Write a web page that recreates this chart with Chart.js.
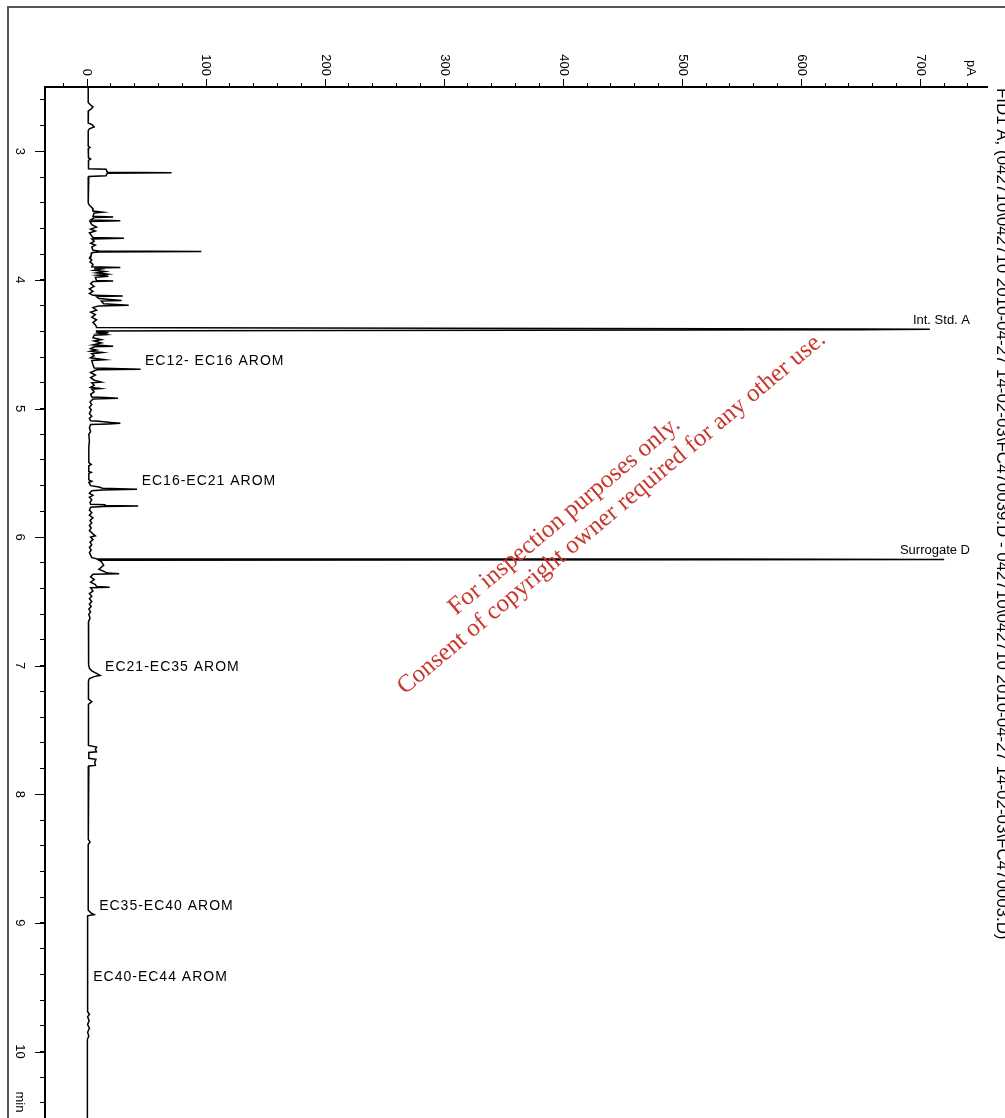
<!DOCTYPE html>
<html>
<head>
<meta charset="utf-8">
<script src="https://cdn.jsdelivr.net/npm/chart.js@4.4.1/dist/chart.umd.min.js"></script>
<style>
html,body{margin:0;padding:0;background:#fff;}
canvas{display:block;}
</style>
</head>
<body>
<canvas id="c" width="1005" height="1118"></canvas>
<script>
// ---- Data ----
const retentionTimes = [
  2.50, 2.62, 2.64, 2.655, 2.67, 2.685, 2.78, 2.795, 2.81, 2.825,
  2.84, 2.96, 2.97, 2.98, 3.05, 3.06, 3.07, 3.12, 3.135, 3.14,
  3.162, 3.166, 3.17, 3.19, 3.195, 3.22, 3.40, 3.42, 3.44, 3.465,
  3.474, 3.48, 3.505, 3.511, 3.515, 3.535, 3.541, 3.546, 3.57, 3.59,
  3.605, 3.62, 3.635, 3.67, 3.676, 3.681, 3.70, 3.715, 3.73, 3.745,
  3.77, 3.775, 3.779, 3.783, 3.788, 3.81, 3.83, 3.845, 3.86, 3.88,
  3.898, 3.903, 3.907, 3.915, 3.925, 3.935, 3.945, 3.955, 3.963, 3.972,
  3.98, 4.004, 4.009, 4.013, 4.03, 4.05, 4.07, 4.09, 4.105, 4.12,
  4.126, 4.13, 4.145, 4.16, 4.165, 4.185, 4.197, 4.202, 4.215, 4.235,
  4.25, 4.27, 4.29, 4.31, 4.33, 4.35, 4.365, 4.37, 4.372, 4.381,
  4.384, 4.387, 4.396, 4.398, 4.405, 4.41, 4.415, 4.425, 4.43, 4.45,
  4.465, 4.475, 4.49, 4.505, 4.515, 4.52, 4.535, 4.545, 4.555, 4.565,
  4.575, 4.59, 4.605, 4.62, 4.627, 4.66, 4.685, 4.69, 4.695, 4.699,
  4.72, 4.74, 4.76, 4.78, 4.795, 4.80, 4.82, 4.835, 4.845, 4.85,
  4.87, 4.89, 4.91, 4.915, 4.921, 4.926, 4.95, 4.97, 4.99, 5.01,
  5.04, 5.06, 5.075, 5.095, 5.10, 5.108, 5.115, 5.12, 5.125, 5.15,
  5.18, 5.20, 5.25, 5.30, 5.35, 5.42, 5.434, 5.445, 5.49, 5.496,
  5.505, 5.555, 5.566, 5.575, 5.60, 5.61, 5.62, 5.628, 5.634, 5.64,
  5.66, 5.675, 5.69, 5.71, 5.73, 5.745, 5.748, 5.755, 5.758, 5.762,
  5.768, 5.79, 5.81, 5.83, 5.85, 5.87, 5.89, 5.91, 5.93, 5.95,
  5.975, 5.99, 6.00, 6.02, 6.04, 6.06, 6.08, 6.10, 6.12, 6.14,
  6.16, 6.168, 6.171, 6.1735, 6.176, 6.179, 6.19, 6.22, 6.25, 6.27,
  6.28, 6.284, 6.288, 6.31, 6.33, 6.35, 6.37, 6.385, 6.39, 6.394,
  6.42, 6.44, 6.46, 6.48, 6.50, 6.52, 6.54, 6.56, 6.58, 6.60,
  6.63, 6.66, 6.70, 6.75, 6.80, 6.90, 6.99, 7.02, 7.04, 7.06,
  7.075, 7.085, 7.10, 7.12, 7.26, 7.28, 7.30, 7.62, 7.632, 7.65,
  7.67, 7.675, 7.72, 7.728, 7.75, 7.775, 7.78, 7.85, 8.00, 8.35,
  8.37, 8.39, 8.90, 8.92, 8.935, 8.945, 8.96, 9.69, 9.71, 9.73,
  9.76, 9.79, 9.82, 9.85, 9.88, 9.905, 10.52
];
const signalPA = [
  1.0, 1.0, 3.0, 5.0, 3.5, 1.2, 1.0, 4.5, 6.0, 2.0,
  1.0, 1.0, 2.5, 1.0, 1.2, 3.0, 1.2, 1.0, 1.5, 16,
  17, 71, 17, 16, 1.5, 1.0, 1.0, 2.0, 4.5, 5,
  13, 6, 5, 22, 6, 3, 28, 2.5, 4, 8,
  3, 7, 2, 5, 31, 4, 6, 3, 7, 4,
  5, 10, 96, 10, 4, 3.5, 2, 4, 2.5, 5,
  4, 28, 6, 12, 6, 15, 8, 17, 9, 18,
  7, 8, 22, 5, 3, 6, 2, 5, 2, 5,
  30, 8, 10, 29, 12, 14, 35, 10, 5, 8,
  3, 7, 4, 8, 5, 7, 8, 8, 72, 650,
  708, 650, 72, 8, 8, 18, 10, 16, 6, 5,
  12, 6, 12, 5, 22, 6, 3, 8, 3, 13,
  4, 6, 3, 15, 4, 5, 6, 30, 45, 8,
  3, 7, 3, 6, 12, 4, 6, 3, 11, 4,
  6, 3, 4, 15, 26, 5, 2.5, 4, 2, 3.5,
  2, 4, 2, 3, 10, 20, 28, 18, 3, 2,
  3, 1.5, 2, 1.5, 1.5, 1.5, 3.5, 1.5, 1.5, 3.5,
  1.5, 1.5, 4, 1.5, 3, 10, 13, 42, 13, 4,
  2, 5, 2, 4, 2.5, 3, 15, 15, 43, 14,
  3, 2, 4, 2, 5, 2.5, 4, 2, 3.5, 2,
  5, 7, 3, 5, 2.5, 4, 2, 3.5, 2, 3,
  4, 8, 523, 720, 523, 10, 12, 14, 10, 15,
  17, 27, 5, 3, 6, 3, 7, 8, 19, 3,
  5, 2, 4, 2, 4, 2, 3.5, 1.5, 3, 1.5,
  2.5, 1.2, 1.2, 1.5, 1.2, 1.2, 1.5, 2, 4, 8,
  11, 6, 2, 1.2, 1.2, 4, 1.2, 1.2, 8, 7,
  8, 1.5, 1.5, 7.5, 6.5, 7, 1.5, 1.2, 1.0, 1.0,
  2.5, 1.0, 1.0, 3, 6, 0.5, 0.5, 0.5, 2, 0.5,
  1.8, 0.5, 2, 0.5, 1.5, 0.3, 0.3
];
const timeTickLabels = [3, 4, 5, 6, 7, 8, 9, 10];
const signalTickLabels = [0, 100, 200, 300, 400, 500, 600, 700];
const timeUnit = 'min';
const signalUnit = 'pA';
const peakNames = ['Int. Std. A', 'EC12- EC16 AROM', 'EC16-EC21 AROM', 'Surrogate D', 'EC21-EC35 AROM', 'EC35-EC40 AROM', 'EC40-EC44 AROM'];
const peakTimes = [4.384, 4.695, 5.628, 6.1735, 7.075, 8.935, 9.485];
const peakHeights = [708, 44.5, 41.7, 720, 11, 6, 1];
const signalTitle = 'FID1 A, (042710\\042710 2010-04-27 14-02-03\\FC470039.D - 042710\\042710 2010-04-27 14-02-03\\FC470003.D)';
const watermarkLines = ['For inspection purposes only.', 'Consent of copyright owner required for any other use.'];

if (retentionTimes.length !== signalPA.length) console.error('length mismatch', retentionTimes.length, signalPA.length);
const points = retentionTimes.map((t, i) => ({ x: signalPA[i], y: t }));

const FONT = '"Liberation Sans", Arial, sans-serif';

const decorPlugin = {
  id: 'decor',
  beforeDraw(chart) {
    const ctx = chart.ctx;
    ctx.save();
    ctx.fillStyle = '#ffffff';
    ctx.fillRect(0, 0, chart.width, chart.height);
    ctx.strokeStyle = '#555555';
    ctx.lineWidth = 2;
    ctx.beginPath();
    ctx.moveTo(8, chart.height + 5);
    ctx.lineTo(8, 7);
    ctx.lineTo(chart.width + 5, 7);
    ctx.stroke();
    ctx.restore();
  },
  afterDraw(chart) {
    const ctx = chart.ctx;
    const xs = chart.scales.x, ys = chart.scales.y;
    const area = chart.chartArea;
    ctx.save();
    ctx.strokeStyle = '#000';
    ctx.lineWidth = 1;
    ctx.beginPath();
    signalTickLabels.forEach(v => {
      const px = Math.round(xs.getPixelForValue(v)) + 0.5;
      ctx.moveTo(px, area.top - 8);
      ctx.lineTo(px, area.top);
    });
    timeTickLabels.forEach(t => {
      const py = Math.round(ys.getPixelForValue(t)) + 0.5;
      ctx.moveTo(area.left - 10, py);
      ctx.lineTo(area.left, py);
    });
    ctx.stroke();

    ctx.fillStyle = '#000';
    ctx.font = '13px ' + FONT;
    signalTickLabels.forEach(v => {
      const px = xs.getPixelForValue(v);
      ctx.save();
      ctx.translate(px, area.top - 11);
      ctx.rotate(Math.PI / 2);
      ctx.textAlign = 'right';
      ctx.textBaseline = 'middle';
      ctx.fillText(String(v), 0, 0);
      ctx.restore();
    });
    ctx.save();
    ctx.translate(area.right - 16, area.top - 11);
    ctx.rotate(Math.PI / 2);
    ctx.textAlign = 'right';
    ctx.textBaseline = 'middle';
    ctx.fillText(signalUnit, 0, 0);
    ctx.restore();

    timeTickLabels.forEach(t => {
      const py = ys.getPixelForValue(t);
      ctx.save();
      ctx.translate(area.left - 25, py);
      ctx.rotate(Math.PI / 2);
      ctx.textAlign = 'center';
      ctx.textBaseline = 'middle';
      ctx.fillText(String(t), 0, 0);
      ctx.restore();
    });
    ctx.save();
    ctx.translate(area.left - 25, ys.getPixelForValue(timeTickLabels[timeTickLabels.length - 1]) + 40);
    ctx.rotate(Math.PI / 2);
    ctx.textAlign = 'left';
    ctx.textBaseline = 'middle';
    ctx.fillText(timeUnit, 0, 0);
    ctx.restore();

    // signal title on right edge (rotated, partly clipped)
    ctx.save();
    let fs = 14;
    ctx.font = fs + 'px ' + FONT;
    const w0 = ctx.measureText(signalTitle).width;
    fs = fs * 852 / w0;
    ctx.font = fs.toFixed(2) + 'px ' + FONT;
    ctx.translate(area.right + 10, area.top + 1);
    ctx.rotate(Math.PI / 2);
    ctx.textAlign = 'left';
    ctx.textBaseline = 'alphabetic';
    ctx.fillText(signalTitle, 0, 0);
    ctx.restore();

    // peak labels
    ctx.textBaseline = 'middle';
    peakNames.forEach((name, i) => {
      const isEC = name.startsWith('EC');
      ctx.font = (isEC ? '14px ' : '13px ') + FONT;
      ctx.letterSpacing = isEC ? '1px' : '0px';
      const py = ys.getPixelForValue(peakTimes[i]) - 8.5;
      let px = xs.getPixelForValue(peakHeights[i]) + 5;
      const w = ctx.measureText(name).width;
      if (px + w > area.right - 17) {
        ctx.textAlign = 'right';
        px = area.right - 17;
      } else {
        ctx.textAlign = 'left';
      }
      ctx.fillText(name, px, py);
    });
    ctx.letterSpacing = '0px';

    // watermark
    ctx.fillStyle = '#c8372d';
    ctx.font = '25px "Liberation Serif", "Times New Roman", serif';
    ctx.textAlign = 'left';
    ctx.textBaseline = 'alphabetic';
    const ang = -40 * Math.PI / 180;
    const dir = [Math.cos(ang), Math.sin(ang)];
    const up = [Math.sin(ang), -Math.cos(ang)];
    const s2 = [405, 695];
    const s1 = [s2[0] + 90 * dir[0] + 28 * up[0], s2[1] + 90 * dir[1] + 28 * up[1]];
    [s1, s2].forEach((s, i) => {
      ctx.save();
      ctx.translate(s[0], s[1]);
      ctx.rotate(ang);
      ctx.fillText(watermarkLines[i], 0, 0);
      ctx.restore();
    });
    ctx.restore();
  }
};

new Chart(document.getElementById('c'), {
  type: 'scatter',
  data: {
    datasets: [{
      data: points,
      showLine: true,
      borderColor: '#000',
      borderWidth: 1.5,
      pointRadius: 0,
      pointHoverRadius: 0,
      tension: 0,
      fill: false
    }]
  },
  options: {
    responsive: false,
    animation: false,
    devicePixelRatio: 1,
    layout: { padding: { top: 0, left: 0, right: 18, bottom: 0 } },
    plugins: { legend: { display: false }, tooltip: { enabled: false } },
    events: [],
    scales: {
      x: {
        type: 'linear',
        position: 'top',
        min: -35.3,
        max: 756,
        ticks: { display: false, stepSize: 20, includeBounds: false },
        grid: { display: true, drawOnChartArea: false, drawTicks: true, tickLength: 4, color: '#000', lineWidth: 1 },
        border: { display: true, color: '#000', width: 2 },
        afterFit: s => { s.height = 87; }
      },
      y: {
        type: 'linear',
        position: 'left',
        reverse: true,
        min: 2.5,
        max: 10.517,
        ticks: { display: false, stepSize: 0.2, includeBounds: false },
        grid: { display: true, drawOnChartArea: false, drawTicks: true, tickLength: 5, color: '#000', lineWidth: 1 },
        border: { display: true, color: '#000', width: 2 },
        afterFit: s => { s.width = 45; }
      }
    }
  },
  plugins: [decorPlugin]
});
</script>
</body>
</html>
